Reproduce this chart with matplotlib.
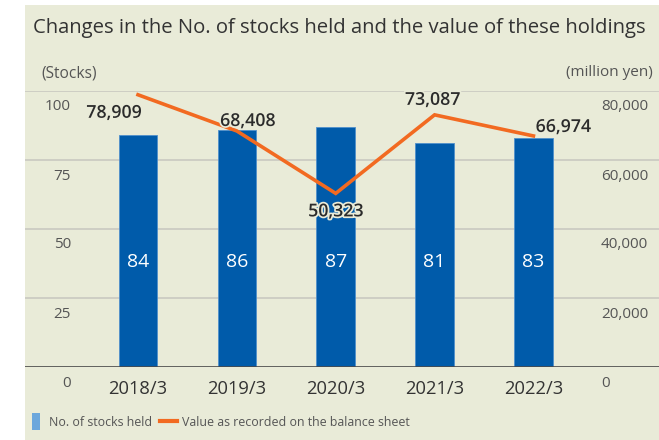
import matplotlib
matplotlib.use("Agg")
import matplotlib.pyplot as plt
import matplotlib.patheffects as pe
from matplotlib.patches import Rectangle
from matplotlib.lines import Line2D

plt.rcParams['font.family'] = ['Open Sans', 'DejaVu Sans']

# Data
years = ["2018/3", "2019/3", "2020/3", "2021/3", "2022/3"]
stocks_held = [84, 86, 87, 81, 83]
book_value = [78909, 68408, 50323, 73087, 66974]
left_ticks = [0, 25, 50, 75, 100]
right_ticks = [0, 20000, 40000, 60000, 80000]

W, H = 659, 440
BG = "#E9EBD8"
BAR = "#005BAA"
LINE = "#F26A21"
GRID = "#C9C9C1"

fig = plt.figure(figsize=(W / 100, H / 100), dpi=100)
fig.patch.set_facecolor("white")

# beige panel
fig.add_artist(Rectangle((25 / W, 0), 1 - 25 / W, (H - 5) / H,
                         transform=fig.transFigure, facecolor=BG,
                         edgecolor="none", zorder=0))

def fx(px):
    return px / W

def fy(py):
    return 1 - py / H

ax = fig.add_axes([fx(25), fy(367), fx(659) - fx(25), fy(91) - fy(367)])
ax.set_facecolor("none")
ax.set_xlim(-1.143, 5.27)
ax.set_ylim(0, 100)
for s in ax.spines.values():
    s.set_visible(False)
ax.set_xticks([])
ax.set_yticks([])

for t in left_ticks[1:]:
    ax.axhline(t, color=GRID, lw=1.2, zorder=1)
ax.axhline(0, color="#4A4A4A", lw=1.2, zorder=4)

x = list(range(len(years)))
ax.bar(x, stocks_held, width=0.39, color=BAR, edgecolor="#4F8FCB",
       linewidth=0.6, zorder=2)
for xi, v in zip(x, stocks_held):
    ax.text(xi, 38, str(v), color="white", fontsize=14, ha="center",
            va="center", zorder=5, fontweight="medium")

ax2 = ax.twinx()
ax2.set_ylim(0, 80000)
ax2.set_axis_off()
ax2.plot(x, book_value, color=LINE, lw=2.6, zorder=3, solid_joinstyle="miter")

# value labels (offsets in pixels: right, down)
offsets = [(-24, 18), (11, -10), (0, 18), (-2, -15), (30, -9)]
for xi, v, (dx, dy) in zip(x, book_value, offsets):
    ax2.annotate(f"{v:,}", (xi, v), xytext=(dx * 0.72, -dy * 0.72),
                 textcoords="offset points", ha="center", va="center",
                 fontsize=12.8, fontweight="semibold", color="#2B2B2B", zorder=6,
                 path_effects=[pe.withStroke(linewidth=2.5, foreground=BG)])

# axis tick labels
for t in left_ticks:
    y = 367 - t / 100 * 276 + 16
    fig.text(fx(71), fy(y), str(t), ha="right", va="center",
             fontsize=11, color="#555555")
for t in right_ticks:
    y = 367 - t / 80000 * 276 + 16
    fig.text(fx(601), fy(y), f"{t:,}", ha="left", va="center",
             fontsize=11, color="#555555")

for xi, lab in zip(x, years):
    px = ax.transData.transform((xi, 0))[0]
    fig.text(px / W, fy(389), lab, ha="center", va="center",
             fontsize=13.2, color="#333333")

fig.text(fx(41), fy(73), "(Stocks)", ha="left", va="center",
         fontsize=11.2, color="#555555")
fig.text(fx(653), fy(73), "(million yen)", ha="right", va="center",
         fontsize=11, color="#555555")

fig.text(fx(33), fy(28), "Changes in the No. of stocks held and the value of these holdings",
         ha="left", va="center", fontsize=14.6, color="#333333")

# legend
fig.add_artist(Rectangle((fx(32), fy(430)), fx(40) - fx(32), fy(413) - fy(430),
                         transform=fig.transFigure, facecolor="#6CA7DC",
                         edgecolor="none"))
fig.text(fx(49), fy(422), "No. of stocks held", ha="left", va="center",
         fontsize=8.9, color="#555555")
fig.add_artist(Line2D([fx(160), fx(177)], [fy(421), fy(421)],
                      transform=fig.transFigure, color=LINE, lw=3))
fig.text(fx(182), fy(422), "Value as recorded on the balance sheet",
         ha="left", va="center", fontsize=8.9, color="#555555")

fig.savefig("out.png", dpi=100, facecolor=fig.get_facecolor())
